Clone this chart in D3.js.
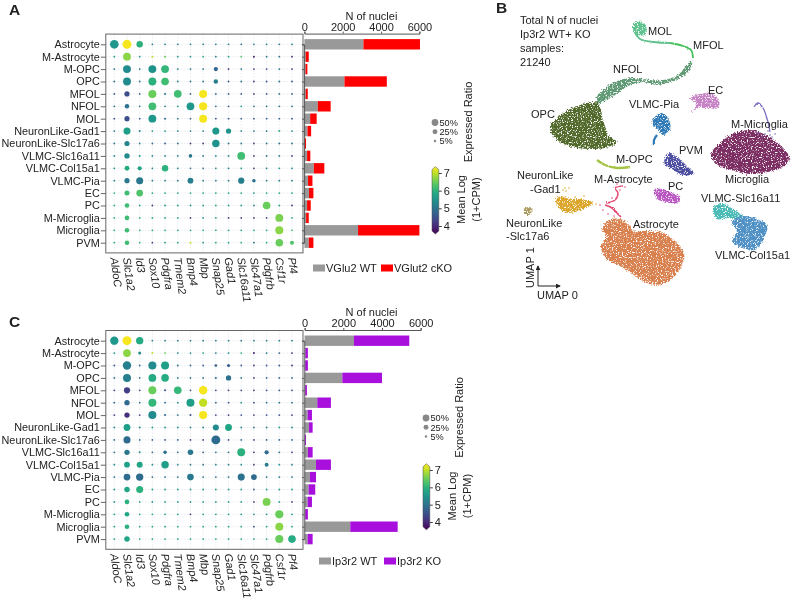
<!DOCTYPE html>
<html><head><meta charset="utf-8">
<script src="https://cdn.jsdelivr.net/npm/d3@7"></script>
<style>
html,body{margin:0;padding:0;background:#fff}
svg{display:block;filter:blur(0.3px)}
text{font-family:"Liberation Sans",Arial,sans-serif;fill:#222}
</style></head><body>
<svg id="c" width="795" height="601"></svg>
<script>
const rows=["Astrocyte","M-Astrocyte","M-OPC","OPC","MFOL","NFOL","MOL","NeuronLike-Gad1","NeuronLike-Slc17a6","VLMC-Slc16a11","VLMC-Col15a1","VLMC-Pia","EC","PC","M-Microglia","Microglia","PVM"];
const genes=["AldoC","Slc1a2","Id3","Sox10","Pdgfra","Tmem2","Bmp4","Mbp","Snap25","Gad1","Slc16a11","Slc47a1","Pdgfrb","Csf1r","Pf4"];
const ratioTicks=[50,25,5];
const colorTicks=[4,5,6,7];
const barTicks=[0,2000,4000,6000];

const ratioA=[
[85,92,45,2,2,2,2,2,2,2,2,2,2,2,2],
[2,68,2,3,3,2,2,2,2,2,2,3,2,2,2],
[2,70,2,70,68,2,2,2,18,2,2,2,2,2,2],
[2,70,2,70,65,2,2,2,20,2,2,2,2,2,2],
[2,28,2,72,3,65,2,72,2,2,2,2,2,2,2],
[2,20,2,68,2,2,68,75,2,2,2,2,2,2,2],
[2,28,2,68,3,2,2,72,2,2,2,2,2,2,2],
[2,55,3,2,2,2,2,2,55,30,2,2,2,3,2],
[2,28,2,2,2,2,2,2,62,2,2,2,2,2,2],
[2,30,3,2,2,2,12,2,2,2,68,2,2,2,2],
[2,25,18,2,45,2,2,2,2,2,2,2,2,2,2],
[2,28,55,2,2,2,35,2,2,2,42,12,2,2,2],
[2,26,50,2,2,2,2,2,2,2,2,2,2,2,2],
[2,22,2,2,2,2,2,2,2,2,2,2,65,2,2],
[2,22,2,2,2,2,2,2,2,2,2,2,2,70,2],
[2,22,2,2,2,2,2,2,2,2,2,2,2,72,2],
[2,22,2,2,2,2,3,2,2,2,2,2,2,65,16]];
const colorA=[
[5.6,7.3,6.0,5.2,5.2,5.2,5.2,5.1,5.2,5.2,5.0,5.2,5.2,5.2,5.2],
[5.7,6.7,5.5,7.0,6.5,5.6,5.5,5.9,5.2,5.7,6.3,4.0,5.0,5.0,4.0],
[5.0,5.4,5.0,5.5,6.1,5.2,5.0,5.0,4.8,4.0,5.0,4.2,4.5,5.0,4.2],
[5.0,5.4,5.0,6.0,6.2,5.3,5.0,5.0,5.2,4.6,5.0,4.2,4.6,5.0,4.6],
[4.6,4.5,4.7,6.5,5.0,6.2,4.8,7.3,4.8,4.6,4.6,4.2,4.6,5.0,4.6],
[5.0,5.0,5.0,6.2,5.2,5.6,5.6,7.3,5.0,4.6,5.6,5.0,5.0,5.0,5.0],
[4.5,4.5,4.6,5.6,5.0,5.2,4.8,7.3,4.6,4.5,4.8,4.6,4.8,4.8,4.5],
[5.0,5.7,5.2,5.5,5.5,5.3,5.2,5.2,5.6,5.5,5.2,5.0,5.0,6.0,5.2],
[5.2,5.3,5.2,5.0,4.8,5.0,4.2,4.2,5.5,5.0,5.2,4.2,5.0,5.0,5.0],
[5.4,5.4,5.7,5.2,5.2,5.2,5.1,5.0,5.3,5.2,6.2,4.2,5.0,5.2,4.2],
[5.6,5.9,5.8,5.4,6.0,5.4,5.0,5.0,5.4,5.3,5.6,4.2,5.2,5.6,5.4],
[5.3,5.1,5.1,5.2,5.2,5.2,5.2,5.2,5.2,5.1,5.2,5.0,5.2,5.2,5.2],
[6.0,6.2,6.3,5.8,5.8,5.8,5.8,5.8,5.8,5.8,5.8,5.6,5.8,5.8,5.8],
[6.0,6.2,5.8,4.2,5.6,5.8,5.5,5.7,5.8,5.8,5.6,5.2,6.5,5.8,4.2],
[5.9,6.2,5.9,5.8,5.8,5.8,4.2,5.6,5.9,4.2,4.3,4.2,4.4,6.6,5.8],
[5.9,6.2,5.9,5.8,5.8,5.8,5.8,5.8,5.8,5.8,5.8,5.8,5.8,6.7,6.2],
[6.0,6.2,6.0,4.2,5.8,5.9,7.0,5.5,5.8,5.8,6.0,5.0,5.9,6.5,6.3]];
const ratioC=[
[78,92,60,2,2,2,2,2,2,2,2,2,2,2,2],
[2,68,8,3,2,2,2,2,2,2,2,3,2,2,2],
[2,80,2,72,72,2,2,2,6,9,2,2,2,2,2],
[2,72,2,68,65,2,2,2,3,30,2,2,2,2,2],
[2,42,2,72,3,65,2,82,2,2,2,2,2,2,2],
[2,30,2,72,2,2,72,78,2,2,2,2,2,2,2],
[2,30,2,72,3,2,3,75,2,2,2,2,2,2,2],
[2,50,3,2,2,2,2,2,40,52,2,2,2,2,2],
[2,55,2,2,2,2,2,2,90,2,2,2,2,2,2],
[2,30,3,2,12,2,32,2,2,2,70,2,18,2,2],
[2,35,38,2,62,2,2,2,2,2,2,2,15,2,2],
[2,50,60,2,2,2,48,2,2,2,55,35,2,2,2],
[2,32,55,2,2,2,2,2,2,2,2,2,2,2,2],
[2,22,2,2,2,2,2,2,2,2,2,2,70,2,2],
[2,22,2,2,2,2,2,2,2,2,2,2,2,75,2],
[2,22,2,2,2,2,2,2,2,2,2,2,2,72,2],
[2,32,2,2,2,2,2,2,2,2,2,2,2,72,65]];
const colorC=[
[5.6,7.3,5.9,5.2,5.2,5.2,5.2,5.1,5.2,5.2,5.0,5.2,5.2,5.2,5.2],
[5.6,6.7,5.4,7.0,6.5,5.5,5.5,5.8,5.2,5.5,6.0,4.0,5.0,4.8,4.0],
[4.7,5.2,4.8,5.4,5.7,5.0,4.8,4.8,4.7,4.7,4.7,4.2,4.7,4.7,4.2],
[5.0,5.2,5.0,5.9,5.9,5.2,5.0,5.0,5.0,5.0,5.0,4.2,4.8,4.8,4.8],
[4.3,4.3,4.4,6.5,4.6,6.1,4.4,7.3,4.5,4.3,4.4,4.0,4.4,4.6,4.4],
[4.8,4.9,5.0,6.1,5.0,5.5,5.7,7.0,4.8,4.6,5.5,4.6,5.0,5.0,5.0],
[4.2,4.1,4.3,5.4,4.8,5.0,4.5,7.3,4.4,4.2,4.5,4.3,4.6,4.5,4.2],
[5.3,5.7,5.3,5.6,5.5,5.5,5.3,5.3,5.4,5.8,5.3,5.0,5.2,5.7,5.3],
[5.0,4.9,5.0,4.7,4.6,4.8,4.2,4.2,4.9,4.6,4.9,4.2,4.8,4.8,4.8],
[5.1,5.1,5.5,5.0,5.0,5.0,5.1,4.8,5.0,5.0,6.0,4.2,4.9,5.0,4.2],
[5.5,5.7,5.8,5.4,5.7,5.4,5.0,5.0,5.3,5.3,5.4,4.2,5.2,5.5,5.2],
[5.0,4.9,4.9,5.0,4.9,5.0,5.1,5.0,5.0,5.0,5.0,4.9,5.0,5.0,5.0],
[5.6,5.8,6.0,5.7,5.7,5.7,5.7,5.7,5.7,5.7,5.7,4.6,5.7,5.7,5.7],
[5.7,6.0,5.8,5.4,5.8,5.7,5.5,5.7,5.6,5.7,5.6,4.3,6.6,5.6,4.3],
[5.7,5.8,5.7,5.7,5.7,5.7,4.2,5.6,5.7,5.7,5.6,5.3,5.5,6.5,5.6],
[5.8,6.0,5.8,5.8,5.8,5.8,5.8,5.8,5.8,5.8,5.8,4.5,5.8,6.7,5.8],
[5.8,5.8,5.9,5.8,5.8,5.8,5.8,5.7,5.8,5.8,5.8,5.7,5.8,6.5,5.9]];

const wtA=[3080,70,60,2090,70,700,300,160,30,140,490,190,240,140,90,2800,230];
const koA=[2950,156,96,2210,105,670,340,190,55,170,550,230,230,190,136,3200,240];
const wtC=[2550,40,30,1950,30,655,155,225,10,170,590,275,205,155,30,2360,155];
const koC=[2860,130,140,2050,90,705,225,190,60,245,770,315,345,225,140,2450,260];

// UMAP clusters (coordinates in the panel's own frame)
const umapAstro=[[603,226],[612,219],[623,220],[630,226],[633,231],[643,231],[660,232],[675,241],[684,253],[679,271],[663,284],[647,283],[634,275],[622,267],[607,259],[601,247],[606,237],[602,229]];
const umapMicroglia=[[711,155],[721,142],[735,133],[750,130],[766,135],[780,145],[790,158],[783,167],[768,172],[750,174],[732,170],[718,165]];
const umapOPC=[[550,127],[562,114],[580,105],[598,103],[603,120],[609,136],[617,142],[609,147],[590,149],[569,146],[555,138]];
const umapNFOL=[[596,99],[605,88],[620,80],[637,78],[650,80],[663,80],[677,76],[688,64],[692,61],[691,68],[682,77],[670,82],[657,85],[643,82],[628,86],[617,94],[605,101],[598,103]];
const umapMOLblob=[[633,27],[637,21],[644,23],[647,30],[645,35],[638,35],[634,32]];
const umapEC=[[690,98],[700,94],[710,93],[719,100],[718,108],[707,108],[698,108],[692,112],[697,104]];
const umapPia=[[654,118],[662,113],[669,120],[670,130],[663,135],[658,129],[653,125]];
const umapPVM=[[665,158],[670,153],[678,158],[688,167],[694,174],[683,175],[672,169],[665,165]];
const umapPC=[[654,190],[662,189],[672,193],[680,197],[678,203],[667,202],[657,199]];
const umapGad1=[[556,200],[562,196],[570,199],[580,199],[593,203],[583,209],[570,213],[561,210]];
const umapSlc17=[[524,209],[529,207],[533,211],[529,215],[525,214]];
const umap16a11=[[714,207],[723,204],[733,209],[743,217],[737,219],[727,218],[717,219]];
const umapCol15=[[732,222],[743,216],[757,219],[767,225],[764,239],[755,250],[743,248],[732,242],[737,232]];
const umapMFOLline=[[693,58],[691,50],[683,46],[670,43]];
const umapMOLline=[[670,43],[653,42],[640,39],[635,33]];
const umapMMicroLine=[[754,107],[758,103],[763,108],[768,122],[770,132]];
const umapMMicroPts=[[758,133],[765,134],[770,135],[775,134],[762,137],[772,137],[768,131]];
const umapMOPCline=[[597,160],[605,165],[617,168],[630,167]];
const umapPiaTail=[[657,135],[654,140],[654,145]];
const umapMAstroA=[[605,205],[612,208],[617,213],[621,217]];
const umapMAstroB=[[606,203],[615,200],[618,193],[615,188],[623,186]];
const umapMAstroPts=[[600,205],[603,210],[609,203],[612,198],[620,190],[617,184],[625,187],[608,214],[614,216]];
const umapGad1Pts=[[565,188],[566,191],[563,190],[569,188],[575,197],[584,196],[596,204]];

const cAstro="#d8814f",cMicro="#7c2d64",cOPC="#51692b",cNFOL="#5f9a74",cMFOL="#45c05a",cMOL="#60c28e",
cEC="#c782c6",cPia="#2f79b5",cPVM="#4c4ea1",cPC="#b955c1",cMOPC="#a6c345",cMAstro="#e34b72",cGad="#dca62c",cS17="#ab9a5e",c16="#48bab6",cCol="#4f90c5",cMMic="#7a6cc0";

const umapLabels=[["MOL",648,35],["MFOL",693,49],["NFOL",613,73],["EC",708,94],["VLMC-Pia",629,108],["OPC",531,118],["M-Microglia",731,128],["PVM",679,154],["M-OPC",616,163],["Microglia",725,183],["M-Astrocyte",594,183],["PC",668,190],["NeuronLike",517,179],["-Gad1",530,193],["VLMC-Slc16a11",701,202],["Astrocyte",633,228],["NeuronLike",506,227],["-Slc17a6",506,240],["VLMC-Col15a1",715,259]];
const noteLines=["Total N of nuclei","Ip3r2 WT+ KO","samples:","21240"];

const svg=d3.select("#c");
const defs=svg.append("defs");
const FS=11;

// speckle filter gives clusters their scatter look
const f=defs.append("filter").attr("id","speck").attr("x","-10%").attr("y","-10%").attr("width","120%").attr("height","120%");
f.append("feTurbulence").attr("type","fractalNoise").attr("baseFrequency",0.8).attr("numOctaves",2).attr("seed",4).attr("result","n");
f.append("feDisplacementMap").attr("in","SourceGraphic").attr("in2","n").attr("scale",5).attr("xChannelSelector","R").attr("yChannelSelector","G").attr("result","d");
f.append("feColorMatrix").attr("in","n").attr("type","matrix").attr("values","0 0 0 0 0 0 0 0 0 0 0 0 0 0 0 6 0 0 0 -1.7").attr("result","m");
f.append("feComposite").attr("in","d").attr("in2","m").attr("operator","in");
const f2=defs.append("filter").attr("id","rough").attr("x","-20%").attr("y","-20%").attr("width","140%").attr("height","140%");
f2.append("feTurbulence").attr("type","fractalNoise").attr("baseFrequency",0.7).attr("numOctaves",1).attr("seed",7).attr("result","n");
f2.append("feDisplacementMap").attr("in","SourceGraphic").attr("in2","n").attr("scale",2.5).attr("xChannelSelector","R").attr("yChannelSelector","G");

const sizeR=d3.scaleSqrt().domain([0,100]).range([0.25,4.67]);
const colorS=d3.scaleSequential(d3.interpolateViridis).domain([3.6,7.35]);

function panel(o){
  const g=svg.append("g");
  const x=d3.scalePoint().domain(genes).range([114.3,292]);
  const y=d3.scalePoint().domain(rows).range([o.y0,o.y0+198.4]);
  const top=o.y0-10.2,bot=o.y0+208.6;
  // grid
  g.append("g").selectAll("line").data(rows).join("line").attr("x1",106).attr("x2",303).attr("y1",d=>y(d)).attr("y2",d=>y(d)).attr("stroke","#dfe3ea").attr("stroke-width",.7).attr("stroke-dasharray","1.5 1.5");
  g.append("g").selectAll("line").data(genes).join("line").attr("y1",top).attr("y2",bot).attr("x1",d=>x(d)).attr("x2",d=>x(d)).attr("stroke","#dfe3ea").attr("stroke-width",.7).attr("stroke-dasharray","1.5 1.5");
  // dots
  rows.forEach((r,i)=>genes.forEach((ge,j)=>{
    g.append("circle").attr("cx",x(ge)).attr("cy",y(r)).attr("r",sizeR(o.ratio[i][j])).attr("fill",colorS(o.color[i][j]));
  }));
  g.append("rect").attr("x",105.8).attr("y",top).attr("width",197.2).attr("height",bot-top).attr("fill","none").attr("stroke","#666").attr("stroke-width",1);
  // axes
  const ya=g.append("g").attr("transform","translate(105.8,0)").call(d3.axisLeft(y).tickSize(5).tickPadding(1));
  ya.select(".domain").remove();
  ya.selectAll("line").attr("stroke","#666");
  ya.selectAll("text").attr("font-size",10.85).attr("font-family","Liberation Sans").attr("fill","#222");
  genes.forEach(ge=>{
    g.append("text").attr("transform",`translate(${x(ge)-4},${bot+5}) rotate(82)`).attr("font-size",FS).attr("font-style","italic").text(ge);
  });
  // stacked bars
  const bx=d3.scaleLinear().domain([0,6000]).range([o.bx0,o.bx6]);
  const stack=d3.stack().keys(["wt","ko"])(rows.map((r,i)=>({r,wt:o.wt[i],ko:o.ko[i]})));
  g.selectAll(".b").data(stack).join("g").attr("fill",(d,i)=>i?o.koColor:"#999").selectAll("rect").data(d=>d).join("rect")
    .attr("x",d=>bx(d[0])).attr("width",d=>bx(d[1])-bx(d[0])).attr("y",d=>y(d.data.r)-5.2).attr("height",10.4);
  const ba=g.append("g").attr("transform",`translate(0,${top-.5})`).call(d3.axisTop(bx).tickValues(barTicks).tickFormat(d3.format("d")).tickSize(2).tickPadding(1));
  ba.selectAll("path,line").attr("stroke","#555");
  ba.selectAll("text").attr("font-size",FS).attr("font-family","Liberation Sans").attr("fill","#222");
  const bl=g.append("g").attr("transform",`translate(${o.bx0-.3},0)`).call(d3.axisLeft(y).tickSize(2).tickFormat(""));
  bl.selectAll("path,line").attr("stroke","#555");
  g.append("text").attr("x",o.bx0+67).attr("y",top-14.3).attr("text-anchor","middle").attr("font-size",FS).text("N of nuclei");
  // bar legend
  const L=o.legend;
  g.append("rect").attr("x",L.x1).attr("y",L.y-3.5).attr("width",12).attr("height",7).attr("fill","#999");
  g.append("text").attr("x",L.x1+13).attr("y",L.y+4).attr("font-size",FS).text(o.wtName);
  g.append("rect").attr("x",L.x2).attr("y",L.y-3.5).attr("width",12).attr("height",7).attr("fill",o.koColor);
  g.append("text").attr("x",L.x2+13).attr("y",L.y+4).attr("font-size",FS).text(o.koName);
  // size legend
  ratioTicks.forEach((t,i)=>{
    const yy=o.sz.y+i*9.3;
    g.append("circle").attr("cx",o.sz.x).attr("cy",yy).attr("r",sizeR(t)).attr("fill","#888");
    g.append("text").attr("x",o.sz.x+4.5).attr("y",yy+3.2).attr("font-size",9.2).text(t+"%");
  });
  g.append("text").attr("transform",`translate(${o.sz.tx},${o.sz.y-.5}) rotate(-90)`).attr("text-anchor","middle").attr("font-size",FS).text("Expressed Ratio");
  // colorbar
  const cb=o.cb;
  const cy=d3.scaleLinear().domain([4,7]).range([cb.y4,cb.y7]);
  const id="grad"+o.id;
  const gr=defs.append("linearGradient").attr("id",id).attr("x1",0).attr("x2",0).attr("y1",1).attr("y2",0);
  d3.range(0,1.01,.1).forEach(t=>gr.append("stop").attr("offset",t).attr("stop-color",d3.interpolateViridis(t)));
  const ctop=cy(7.36),cbot=cy(3.55);
  const path=d3.path();
  path.moveTo(cb.x,ctop+3);path.lineTo(cb.x+3.4,ctop);path.lineTo(cb.x+6.8,ctop+3);
  path.lineTo(cb.x+6.8,cbot-3);path.lineTo(cb.x+3.4,cbot);path.lineTo(cb.x,cbot-3);path.closePath();
  g.append("path").attr("d",path.toString()).attr("fill",`url(#${id})`).attr("stroke","#444").attr("stroke-width",.5);
  const ca=g.append("g").attr("transform",`translate(${cb.x+6.8},0)`).call(d3.axisRight(cy).tickValues(colorTicks).tickFormat(d3.format("d")).tickSize(3).tickPadding(2));
  ca.select(".domain").remove();
  ca.selectAll("line").attr("stroke","#444");
  ca.selectAll("text").attr("font-size",FS).attr("font-family","Liberation Sans").attr("fill","#222");
  g.append("text").attr("transform",`translate(${cb.x+33},${(cb.y4+cb.y7)/2}) rotate(-90)`).attr("text-anchor","middle").attr("font-size",FS).text("Mean Log");
  g.append("text").attr("transform",`translate(${cb.x+47.5},${(cb.y4+cb.y7)/2}) rotate(-90)`).attr("text-anchor","middle").attr("font-size",FS).text("(1+CPM)");
}

panel({id:"A",y0:44.3,ratio:ratioA,color:colorA,wt:wtA,ko:koA,koColor:"#ff0000",bx0:304.4,bx6:419.4,wtName:"VGlu2 WT",koName:"VGlut2 cKO",
  legend:{x1:313,x2:381,y:268},sz:{x:435,y:122.5,tx:472},cb:{x:432,y4:226,y7:173}});
panel({id:"C",y0:340.7,ratio:ratioC,color:colorC,wt:wtC,ko:koC,koColor:"#a80fdc",bx0:304.6,bx6:420.7,wtName:"Ip3r2 WT",koName:"Ip3r2 KO",
  legend:{x1:319,x2:384,y:561},sz:{x:426,y:418,tx:463},cb:{x:423,y4:522,y7:470}});

// Panel letters
[["A",9,15],["B",496,13],["C",9,327]].forEach(d=>svg.append("text").attr("x",d[1]).attr("y",d[2]).attr("font-size",15.5).attr("font-weight","bold").attr("fill","#111").text(d[0]));

// UMAP
const ux=d3.scaleLinear().domain([480,795]).range([480,795]);
const uy=d3.scaleLinear().domain([0,320]).range([0,320]);
const closed=d3.line().x(d=>ux(d[0])).y(d=>uy(d[1])).curve(d3.curveCatmullRomClosed.alpha(.5));
const open=d3.line().x(d=>ux(d[0])).y(d=>uy(d[1])).curve(d3.curveCatmullRom.alpha(.5));
const ug=svg.append("g").attr("filter","url(#speck)");
[[umapAstro,cAstro],[umapMicroglia,cMicro],[umapOPC,cOPC],[umapNFOL,cNFOL],[umapMOLblob,cMOL],[umapEC,cEC],[umapPia,cPia],[umapPVM,cPVM],[umapPC,cPC],[umapGad1,cGad],[umapSlc17,cS17],[umap16a11,c16],[umapCol15,cCol]]
 .forEach(d=>ug.append("path").attr("d",closed(d[0])).attr("fill",d[1]));
const ul=svg.append("g").attr("filter","url(#rough)");
[[umapMFOLline,cMFOL,1.8],[umapMOLline,cMOL,1.8],[umapMMicroLine,cMMic,1.3],[umapMOPCline,cMOPC,2.4],[umapPiaTail,cPia,2.2],[umapMAstroA,cMAstro,1.7],[umapMAstroB,cMAstro,1.4]]
 .forEach(d=>ul.append("path").attr("d",open(d[0])).attr("fill","none").attr("stroke",d[1]).attr("stroke-width",d[2]));
[[umapMMicroPts,cMMic],[umapMAstroPts,cMAstro],[umapGad1Pts,cGad]].forEach(d=>{
  svg.append("g").selectAll("circle").data(d[0]).join("circle").attr("cx",p=>ux(p[0])).attr("cy",p=>uy(p[1])).attr("r",.8).attr("fill",d[1]);
});
umapLabels.forEach(d=>svg.append("text").attr("x",d[1]).attr("y",d[2]).attr("font-size",FS).text(d[0]));
noteLines.forEach((t,i)=>svg.append("text").attr("x",520).attr("y",24+i*14).attr("font-size",FS).text(t));

// UMAP arrows
const ma=defs.append("marker").attr("id","arr").attr("viewBox","0 0 6 6").attr("refX",5).attr("refY",3).attr("markerWidth",5).attr("markerHeight",5).attr("orient","auto");
ma.append("path").attr("d","M0,0L6,3L0,6Z").attr("fill","#222");
svg.append("line").attr("x1",538).attr("y1",286).attr("x2",538).attr("y2",266).attr("stroke","#222").attr("marker-end","url(#arr)");
svg.append("line").attr("x1",538).attr("y1",286).attr("x2",560).attr("y2",286).attr("stroke","#222").attr("marker-end","url(#arr)");
svg.append("text").attr("x",537).attr("y",299).attr("font-size",FS).text("UMAP 0");
svg.append("text").attr("transform","translate(534,288) rotate(-90)").attr("font-size",FS).text("UMAP 1");
</script>
</body></html>
